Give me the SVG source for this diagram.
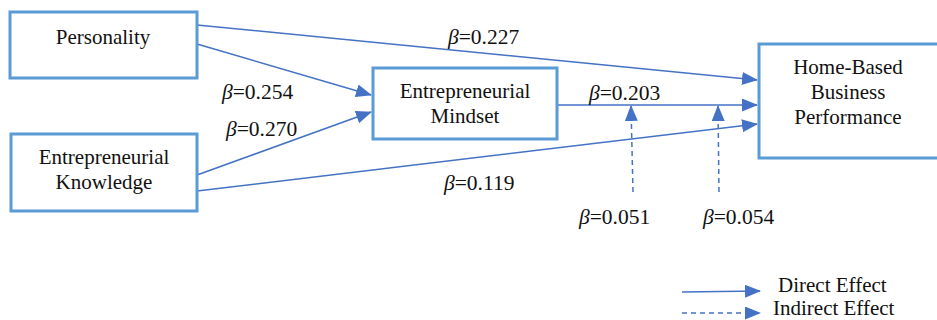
<svg xmlns="http://www.w3.org/2000/svg" width="937" height="320" viewBox="0 0 937 320">
<style>
.box{fill:#fff;stroke:#5b9bd5;stroke-width:3}
.t{font-family:"Liberation Serif","Times New Roman",serif;font-size:21px;fill:#111;text-anchor:middle}
.l{font-family:"Liberation Serif","Times New Roman",serif;font-size:21.5px;fill:#111}
.g{font-family:"Liberation Serif","Times New Roman",serif;font-size:21px;fill:#111}
.b{font-style:italic}
.c{stroke:#4472c4;stroke-width:1.5;fill:none;marker-end:url(#ah)}
.d{stroke:#4472c4;stroke-width:1.5;fill:none;stroke-dasharray:5,4;marker-end:url(#ah)}
</style>
<defs>
<marker id="ah" markerWidth="16" markerHeight="13" refX="15" refY="6.5" orient="auto" markerUnits="userSpaceOnUse">
<path d="M0,0 L16,6.5 L0,13 z" fill="#4472c4"/>
</marker>
</defs>
<rect width="937" height="320" fill="#fff"/>
<g id="connectors">
<line class="c" x1="197" y1="25" x2="757" y2="80"/>
<line class="c" x1="197" y1="44" x2="371" y2="95"/>
<line class="c" x1="197" y1="175" x2="371" y2="112"/>
<line class="c" x1="197" y1="191" x2="757" y2="124"/>
<line class="c" x1="558" y1="105" x2="757" y2="105"/>
<line class="d" x1="633" y1="192" x2="631" y2="106"/>
<line class="d" x1="719" y1="192" x2="718" y2="106"/>
<text class="l" x="448" y="44"><tspan class="b">β</tspan>=0.227</text>
<text class="l" x="222" y="99"><tspan class="b">β</tspan>=0.254</text>
<text class="l" x="226" y="136"><tspan class="b">β</tspan>=0.270</text>
<text class="l" x="589" y="100"><tspan class="b">β</tspan>=0.203</text>
<text class="l" x="444" y="190"><tspan class="b">β</tspan>=0.119</text>
<text class="l" x="579" y="224"><tspan class="b">β</tspan>=0.051</text>
<text class="l" x="703" y="224"><tspan class="b">β</tspan>=0.054</text>
</g>
<g id="personality">
<rect class="box" x="10" y="12" width="187" height="66"/>
<text class="t" x="103" y="44">Personality</text>
</g>
<g id="knowledge">
<rect class="box" x="11" y="134" width="186" height="77"/>
<text class="t" x="104" y="164">Entrepreneurial</text>
<text class="t" x="104" y="189">Knowledge</text>
</g>
<g id="mindset">
<rect class="box" x="373" y="68" width="184" height="71"/>
<text class="t" x="465" y="98">Entrepreneurial</text>
<text class="t" x="465" y="123">Mindset</text>
</g>
<g id="hbp">
<rect class="box" x="759" y="44" width="180" height="114"/>
<text class="t" x="848" y="74">Home-Based</text>
<text class="t" x="848" y="99">Business</text>
<text class="t" x="848" y="124">Performance</text>
</g>
<g id="legend">
<line class="c" x1="682" y1="292" x2="760" y2="291"/>
<line class="d" x1="682" y1="313" x2="760" y2="313"/>
<text class="g" x="778" y="292">Direct Effect</text>
<text class="g" x="773" y="315">Indirect Effect</text>
</g>
</svg>
